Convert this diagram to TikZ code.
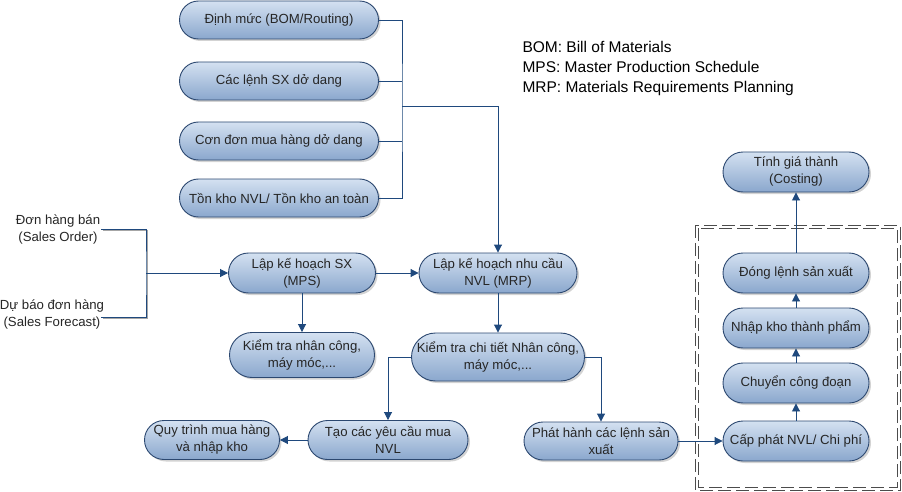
\documentclass[tikz,border=0pt]{standalone}
\usepackage{fontspec}
\setmainfont{Liberation Sans}
\usetikzlibrary{shapes.misc,shadows,arrows.meta}

\definecolor{linkblue}{RGB}{31,73,125}
\definecolor{boxedge}{RGB}{44,72,112}
\definecolor{boxtop}{RGB}{212,225,241}
\definecolor{boxbot}{RGB}{138,167,205}

\begin{document}
\begin{tikzpicture}[x=1pt,y=-1pt]
\tikzstyle{every node}+=[font=\fontsize{13.2}{17}\selectfont, text=black!85]
\tikzstyle{proc}=[rounded rectangle, draw=boxedge, line width=0.9pt, top color=boxtop, bottom color=boxbot, drop shadow={shadow xshift=2pt, shadow yshift=-2pt, opacity=0.35}, align=center, inner sep=1pt, minimum height=38pt]
\tikzstyle{line}=[draw=linkblue, line width=0.9pt]
\tikzstyle{arr}=[line, -{Triangle[length=8pt,width=8pt]}]
\useasboundingbox (0,0) rectangle (902,492);
% inputs at the top
\node [proc, minimum width=201pt] (dm) at (279,20) {Định mức (BOM/Routing)};
\node [proc, minimum width=201pt] (cl) at (279,81) {Các lệnh SX dở dang};
\node [proc, minimum width=201pt] (cd) at (279,141) {Cơn đơn mua hàng dở dang};
\node [proc, minimum width=201pt] (tk) at (279,198) {Tồn kho NVL/ Tồn kho an toàn};
% legend
\node [anchor=west, align=left, font=\fontsize{15.5}{20}\selectfont, text=black] (legend) at (519,68) {BOM: Bill of Materials\\MPS: Master Production Schedule\\MRP: Materials Requirements Planning};
% demand
\node [align=center] (so) at (58,230) {Đơn hàng bán\\(Sales Order)};
\node [align=center] (sf) at (52,315) {Dự báo đơn hàng\\(Sales Forecast)};
% planning
\node [proc, minimum width=149pt, minimum height=40pt] (mps) at (302,273) {Lập kế hoạch SX\\(MPS)};
\node [proc, minimum width=160pt, minimum height=40pt] (mrp) at (498,273) {Lập kế hoạch nhu cầu\\NVL (MRP)};
\node [proc, minimum width=147pt, minimum height=45pt] (ktn) at (302,355) {Kiểm tra nhân công,\\máy móc,...};
\node [proc, minimum width=172pt, minimum height=48pt, inner sep=0pt] (ktc) at (498,357) {Kiểm tra chi tiết Nhân công,\\máy móc,...};
\node [proc, minimum width=162pt, minimum height=39pt] (tao) at (388,440) {Tạo các yêu cầu mua\\NVL};
\node [proc, minimum width=137pt, minimum height=39pt] (qt) at (212,440) {Quy trình mua hàng\\và nhập kho};
\node [proc, minimum width=156pt, minimum height=38pt] (ph) at (601,441) {Phát hành các lệnh sản\\xuất};
% shop floor
\draw [black!70, dashed, dash pattern=on 13pt off 5pt] (695,225) rectangle (900,490);
\draw [black!70, dashed, dash pattern=on 13pt off 5pt] (698,228) rectangle (897,487);
\node [proc, minimum width=148pt, minimum height=40pt] (cp) at (796,441) {Cấp phát NVL/ Chi phí};
\node [proc, minimum width=148pt, minimum height=40pt] (cc) at (796,383) {Chuyển công đoạn};
\node [proc, minimum width=148pt, minimum height=40pt] (nk) at (796,328) {Nhập kho thành phẩm};
\node [proc, minimum width=148pt, minimum height=40pt] (dl) at (796,273) {Đóng lệnh sản xuất};
\node [proc, minimum width=148pt, minimum height=40pt] (tg) at (796,172) {Tính giá thành\\(Costing)};
% connectors
\coordinate (bus) at (402,106);
\draw [line] (dm.east) -| (bus) |- (tk.east);
\draw [line] (cl.east) -- (cl.east -| bus);
\draw [line] (cd.east) -- (cd.east -| bus);
\draw [arr] (bus) -| (mrp.north);
\coordinate (soe) at (101,229);
\coordinate (sfe) at (101,317);
\coordinate (sj) at (146,273);
\draw [line, black!35] ([shift={(1.5,1.5)}]soe) -| ([shift={(1.5,1.5)}]sj) |- ([shift={(1.5,1.5)}]sfe);
\draw [line] (soe) -| (sj) |- (sfe);
\draw [arr] (sj) -- (mps.west);
\draw [arr] (mps.east) -- (mrp.west);
\draw [arr] (mps.south) -- (ktn.north);
\draw [arr] (mrp.south) -- (ktc.north);
\draw [arr] (ktc.west) -| (tao.north);
\draw [arr] (ktc.east) -| (ph.north);
\draw [arr] (tao.west) -- (qt.east);
\draw [arr] (ph.east) -- (cp.west);
\draw [arr] (cp.north) -- (cc.south);
\draw [arr] (cc.north) -- (nk.south);
\draw [arr] (nk.north) -- (dl.south);
\draw [arr] (dl.north) -- (tg.south);
\end{tikzpicture}
\end{document}
